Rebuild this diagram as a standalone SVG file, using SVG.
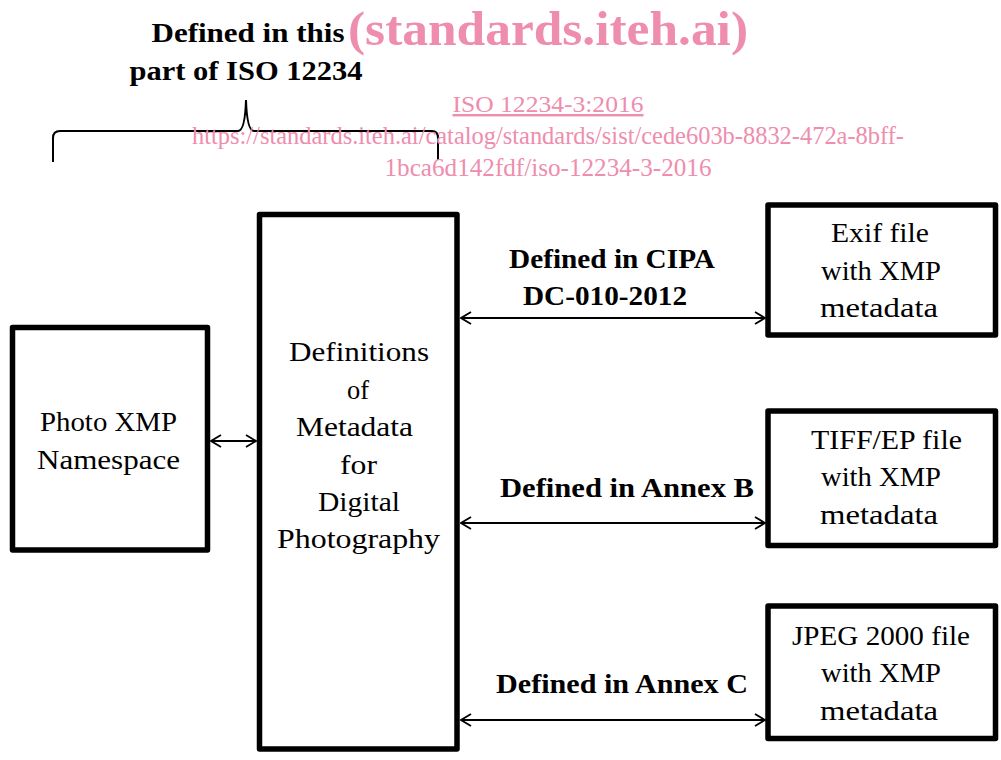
<svg xmlns="http://www.w3.org/2000/svg" width="1001" height="760" viewBox="0 0 1001 760">
<defs>
<style>
.box{fill:#fff;stroke:#000;stroke-width:5.5;stroke-linejoin:round}
.t{font-family:"Liberation Serif","DejaVu Serif",serif;font-size:28px;fill:#000;text-anchor:middle}
.b{font-family:"Liberation Serif","DejaVu Serif",serif;font-size:27px;font-weight:bold;fill:#000;text-anchor:middle}
.wm{font-family:"Liberation Serif",serif;fill:#EE8DAE;text-anchor:middle}
.conn{stroke:#000;stroke-width:2;fill:none}
</style>
<marker id="ah" viewBox="0 0 12 14" refX="11" refY="7" markerWidth="12" markerHeight="14" markerUnits="userSpaceOnUse" orient="auto-start-reverse">
<path d="M1,1 L11,7 L1,13" fill="none" stroke="#000" stroke-width="1.8"/>
</marker>
</defs>
<rect width="1001" height="760" fill="#fff"/>

<g id="title">
<text class="b" x="248" y="42" textLength="193" lengthAdjust="spacingAndGlyphs">Defined in this</text>
<text class="b" x="246" y="80" textLength="233" lengthAdjust="spacingAndGlyphs">part of ISO 12234</text>
<path class="conn" d="M53,162 L53,138 Q53,131 60,131 L238,131 Q245,131 246,100 Q247,131 254,131 L432,131 Q438,131 438,138 L438,160"/>
</g>

<g id="watermark">
<text class="wm" x="548" y="45" font-size="48" font-weight="bold" textLength="400" lengthAdjust="spacingAndGlyphs">(standards.iteh.ai)</text>
<text class="wm" x="548" y="112" font-size="24" text-decoration="underline" textLength="191" lengthAdjust="spacingAndGlyphs">ISO 12234-3:2016</text>
<text class="wm" x="548" y="144" font-size="25" textLength="712" lengthAdjust="spacingAndGlyphs">https://standards.iteh.ai/catalog/standards/sist/cede603b-8832-472a-8bff-</text>
<text class="wm" x="548" y="176" font-size="25" textLength="327" lengthAdjust="spacingAndGlyphs">1bca6d142fdf/iso-12234-3-2016</text>
</g>

<g id="connectors">
<line class="conn" x1="211" y1="441" x2="256" y2="441" marker-start="url(#ah)" marker-end="url(#ah)"/>
<line class="conn" x1="461" y1="318" x2="765" y2="318" marker-start="url(#ah)" marker-end="url(#ah)"/>
<line class="conn" x1="461" y1="523" x2="765" y2="523" marker-start="url(#ah)" marker-end="url(#ah)"/>
<line class="conn" x1="461" y1="720" x2="765" y2="720" marker-start="url(#ah)" marker-end="url(#ah)"/>
<text class="b" x="612" y="268" textLength="206" lengthAdjust="spacingAndGlyphs">Defined in CIPA</text>
<text class="b" x="605" y="305" textLength="164" lengthAdjust="spacingAndGlyphs">DC-010-2012</text>
<text class="b" x="627" y="497" textLength="254" lengthAdjust="spacingAndGlyphs">Defined in Annex B</text>
<text class="b" x="622" y="693" textLength="252" lengthAdjust="spacingAndGlyphs">Defined in Annex C</text>
</g>

<g id="photo-xmp">
<rect class="box" x="12.5" y="327.5" width="195" height="222.5"/>
<text class="t" x="108.5" y="431" textLength="137" lengthAdjust="spacingAndGlyphs">Photo XMP</text>
<text class="t" x="108.5" y="469" textLength="143" lengthAdjust="spacingAndGlyphs">Namespace</text>
</g>

<g id="definitions">
<rect class="box" x="259.5" y="214.5" width="197.5" height="534.5"/>
<text class="t" x="359" y="361" textLength="140" lengthAdjust="spacingAndGlyphs">Definitions</text>
<text class="t" x="358" y="399" textLength="22" lengthAdjust="spacingAndGlyphs">of</text>
<text class="t" x="354.5" y="436" textLength="117" lengthAdjust="spacingAndGlyphs">Metadata</text>
<text class="t" x="358.5" y="474" textLength="37" lengthAdjust="spacingAndGlyphs">for</text>
<text class="t" x="359" y="511" textLength="82" lengthAdjust="spacingAndGlyphs">Digital</text>
<text class="t" x="358.5" y="548" textLength="163" lengthAdjust="spacingAndGlyphs">Photography</text>
</g>

<g id="exif">
<rect class="box" x="768" y="205" width="227.5" height="130"/>
<text class="t" x="880" y="242" textLength="98" lengthAdjust="spacingAndGlyphs">Exif file</text>
<text class="t" x="881" y="280" textLength="120" lengthAdjust="spacingAndGlyphs">with XMP</text>
<text class="t" x="879" y="317" textLength="118" lengthAdjust="spacingAndGlyphs">metadata</text>
</g>

<g id="tiff">
<rect class="box" x="768" y="411" width="227.5" height="134.5"/>
<text class="t" x="886.5" y="449" textLength="151" lengthAdjust="spacingAndGlyphs">TIFF/EP file</text>
<text class="t" x="881" y="486" textLength="120" lengthAdjust="spacingAndGlyphs">with XMP</text>
<text class="t" x="879" y="524" textLength="118" lengthAdjust="spacingAndGlyphs">metadata</text>
</g>

<g id="jpeg2000">
<rect class="box" x="768" y="606" width="227.5" height="132.5"/>
<text class="t" x="881" y="645" textLength="178" lengthAdjust="spacingAndGlyphs">JPEG 2000 file</text>
<text class="t" x="881" y="682" textLength="120" lengthAdjust="spacingAndGlyphs">with XMP</text>
<text class="t" x="879" y="720" textLength="118" lengthAdjust="spacingAndGlyphs">metadata</text>
</g>
</svg>
